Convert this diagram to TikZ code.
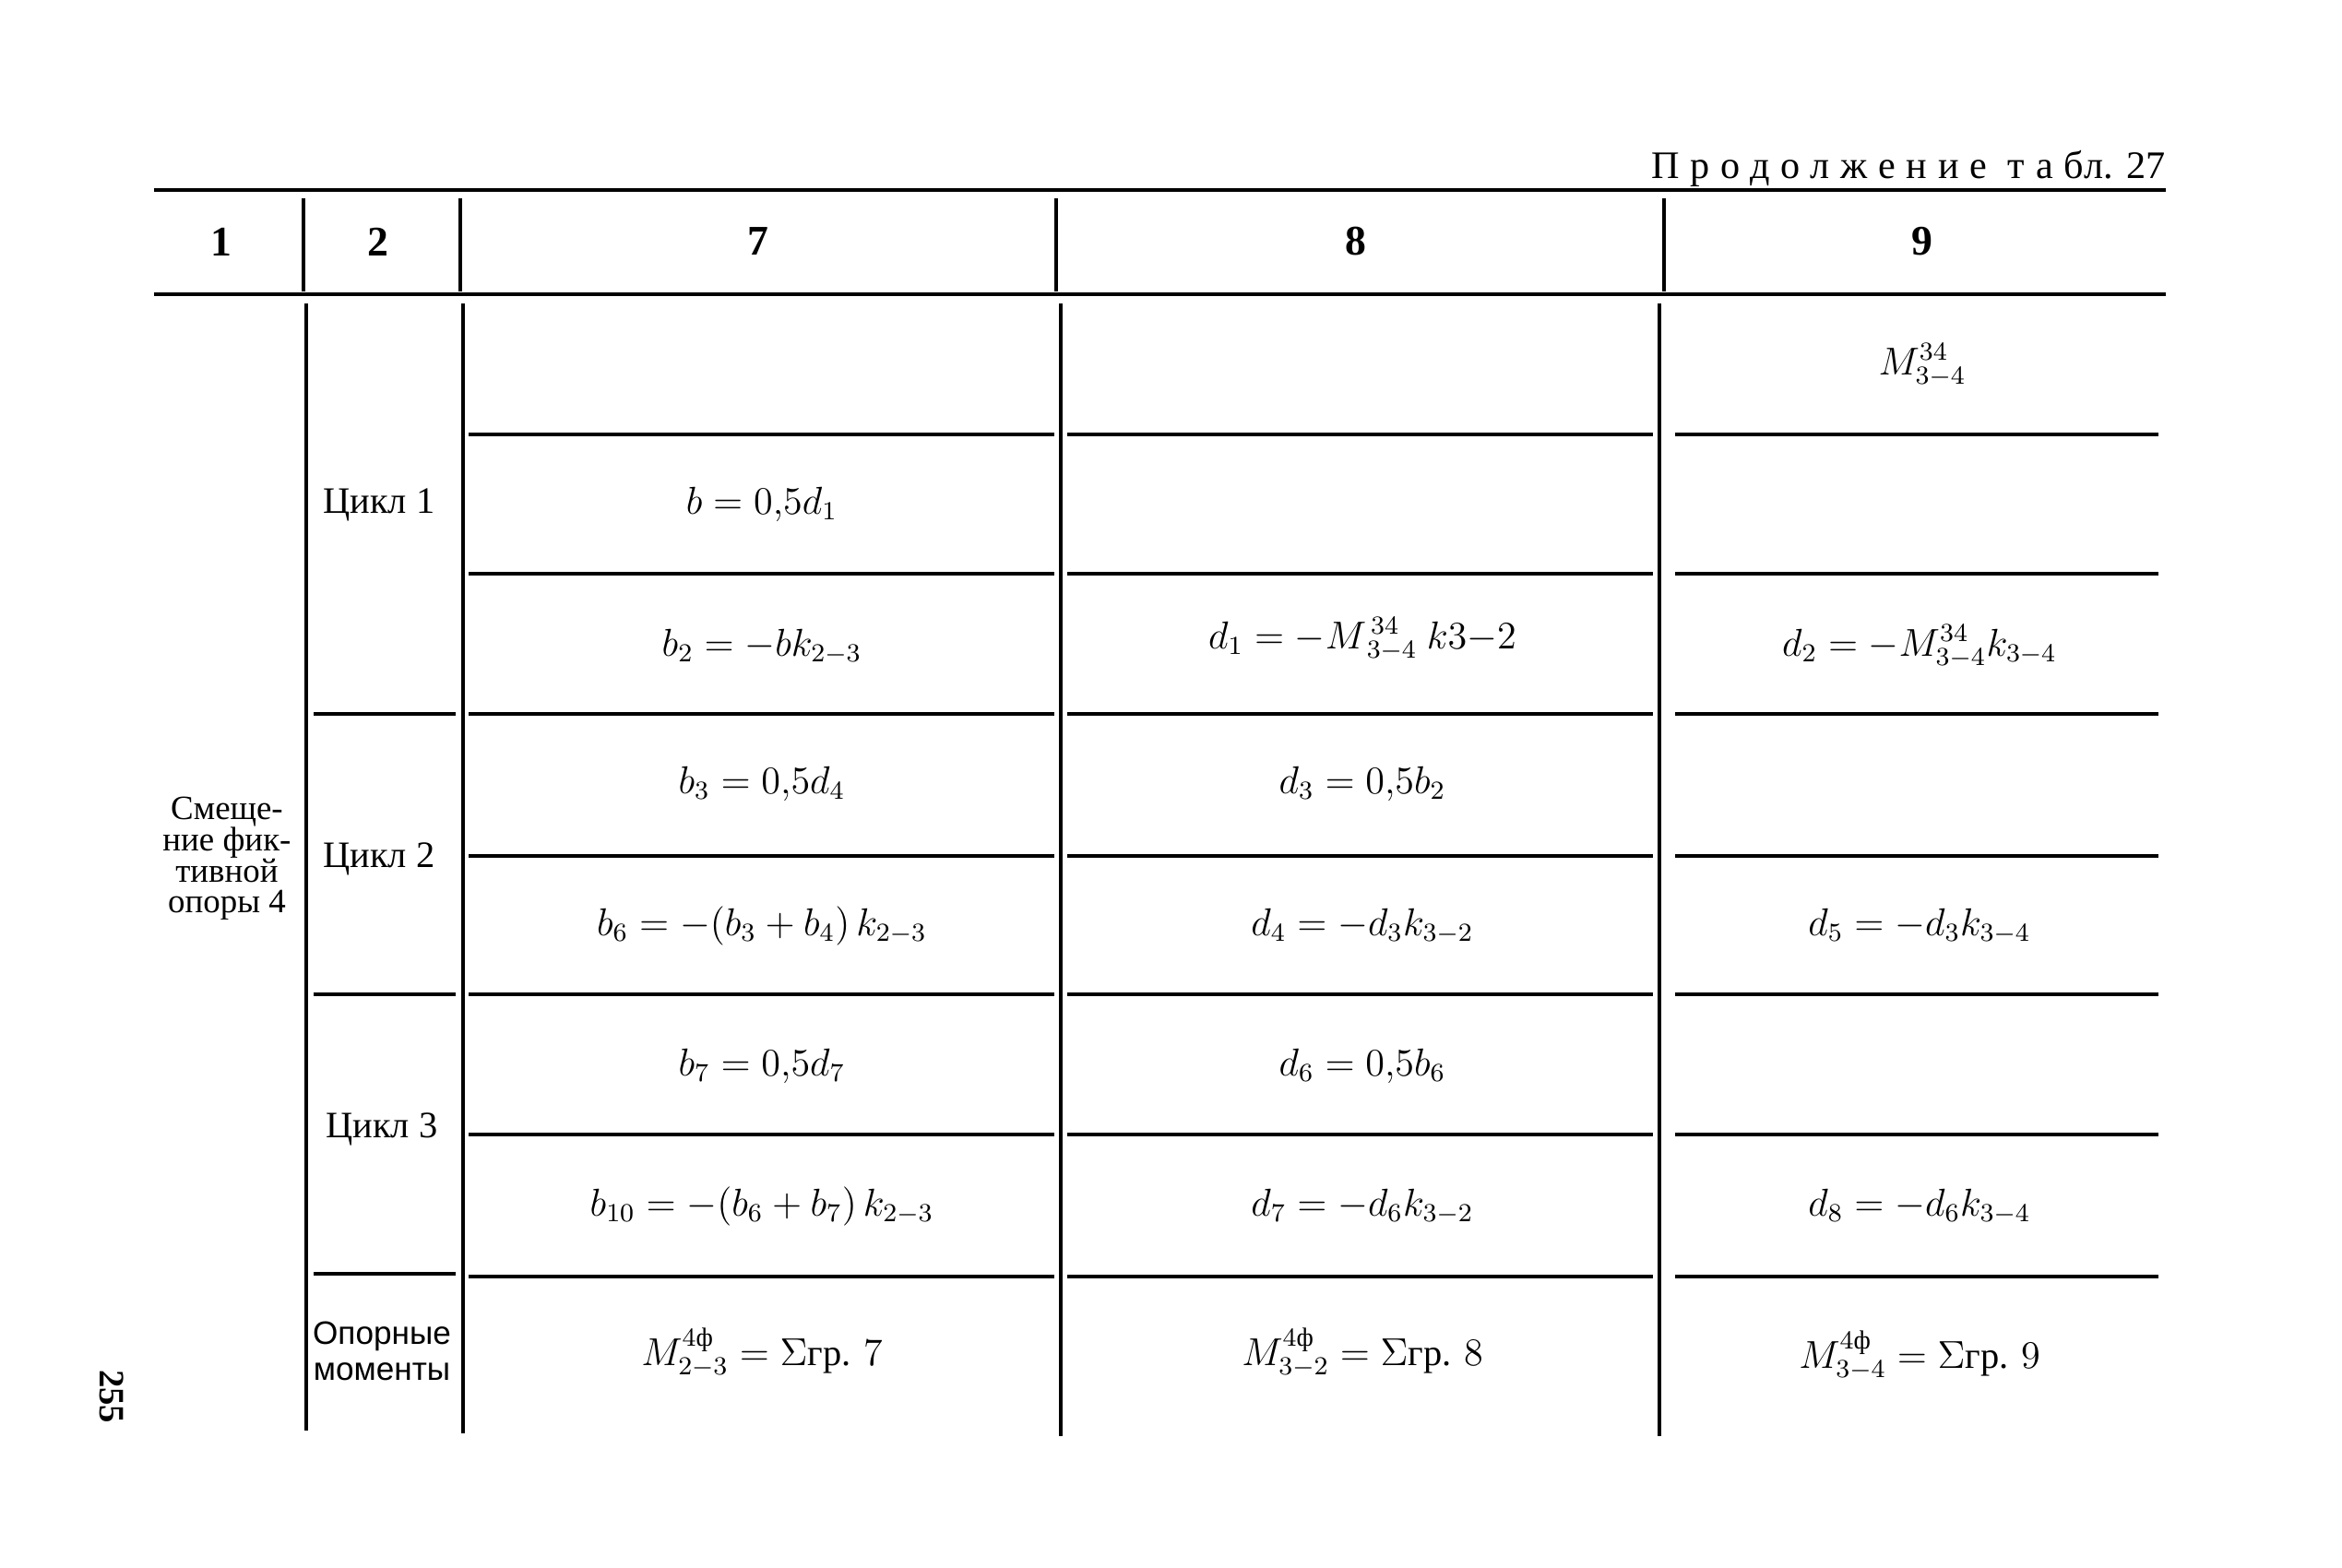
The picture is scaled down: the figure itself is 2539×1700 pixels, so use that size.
\documentclass[tikz,border=0pt]{standalone}
\usepackage{amsmath}
\usepackage{fontspec}
\setmainfont{Liberation Serif}
\newfontfamily\spacedfont[LetterSpace=28]{Liberation Serif}
\newfontfamily\narrowsans{Liberation Sans}
\begin{document}
\begin{tikzpicture}[x=0.01cm,y=-0.01cm,
  rule/.style={line width=1.1pt},
  thin rule/.style={line width=0.9pt},
  cell/.style={font=\fontsize{11.5}{13}\selectfont, inner sep=0pt, anchor=center},
  hd/.style={font=\fontsize{13}{15}\selectfont\bfseries, inner sep=0pt},
  side/.style={font=\fontsize{10.5}{9.6}\selectfont, align=center, inner sep=0pt}]
\useasboundingbox (0,0) rectangle (2539,1700);
% title
\node[anchor=east, inner sep=0pt, font=\fontsize{12}{14}\selectfont] (title) at (2348,183) {{\spacedfont Продолжение таб}л. 27};
% header rules
\draw[rule] (167,206) -- (2348,206);
\draw[rule] (167,319) -- (2348,319);
\foreach \x in {329,499,1145,1804} \draw[rule] (\x,215) -- (\x,316);
% header labels
\node[hd] (h1) at (240,262) {1};
\node[hd] (h2) at (410,262) {2};
\node[hd] (h7) at (822,262) {7};
\node[hd] (h8) at (1470,262) {8};
\node[hd] (h9) at (2084,262) {9};
% body verticals
\draw[rule] (332,329) -- (332,1551);
\draw[rule] (502,329) -- (502,1554);
\draw[rule] (1150,329) -- (1150,1557);
\draw[rule] (1799,329) -- (1799,1557);
% column 2 rules
\foreach \y in {774,1078,1381} \draw[thin rule] (340,\y) -- (494,\y);
% columns 7, 8, 9 rules
\foreach \y in {471,622,774,928,1078,1230,1384} {
  \draw[thin rule] (508,\y) -- (1143,\y);
  \draw[thin rule] (1157,\y) -- (1792,\y);
  \draw[thin rule] (1816,\y) -- (2340,\y);
}
% column 1
\node[side] (c1) at (246,931) {Смеще-\\ние фик-\\тивной\\опоры 4};
% column 2
\node[cell] (cy1) at (411,547) {Цикл 1};
\node[cell] (cy2) at (411,931) {Цикл 2};
\node[cell] (cy3) at (414,1224) {Цикл 3};
\node[side, font=\narrowsans\fontsize{10}{11}\selectfont] (mom) at (414,1465) {Опорные\\моменты};
% column 7
\node[cell] (a2) at (826,547) {$b=0{,}5d_1$};
\node[cell] (a3) at (826,701) {$b_2=-bk_{2-3}$};
\node[cell] (a4) at (826,850) {$b_3=0{,}5d_4$};
\node[cell] (a5) at (826,1004) {$b_6=-(b_3+b_4)\,k_{2-3}$};
\node[cell] (a6) at (826,1156) {$b_7=0{,}5d_7$};
\node[cell] (a7) at (826,1308) {$b_{10}=-(b_6+b_7)\,k_{2-3}$};
\node[cell] (a8) at (826,1467) {$M^{4\text{ф}}_{2-3}=\Sigma\text{гр. }7$};
% column 8
\node[cell] (b3) at (1477,693) {$d_1=-M^{\,34}_{\,3-4}\ k3{-}2$};
\node[cell] (b4) at (1477,850) {$d_3=0{,}5b_2$};
\node[cell] (b5) at (1477,1004) {$d_4=-d_3k_{3-2}$};
\node[cell] (b6) at (1477,1156) {$d_6=0{,}5b_6$};
\node[cell] (b7) at (1477,1308) {$d_7=-d_6k_{3-2}$};
\node[cell] (b8) at (1477,1467) {$M^{4\text{ф}}_{3-2}=\Sigma\text{гр. }8$};
% column 9
\node[cell] (m1) at (2084,396) {$M^{34}_{3-4}$};
\node[cell] (g3) at (2081,701) {$d_2=-M^{34}_{3-4}k_{3-4}$};
\node[cell] (g5) at (2081,1004) {$d_5=-d_3k_{3-4}$};
\node[cell] (g7) at (2081,1308) {$d_8=-d_6k_{3-4}$};
\node[cell] (g8) at (2081,1470) {$M^{4\text{ф}}_{3-4}=\Sigma\text{гр. }9$};
% page number
\node[rotate=-90, inner sep=0pt, font=\fontsize{11}{13}\selectfont\bfseries] (pg) at (121,1514) {255};
\end{tikzpicture}
\end{document}
